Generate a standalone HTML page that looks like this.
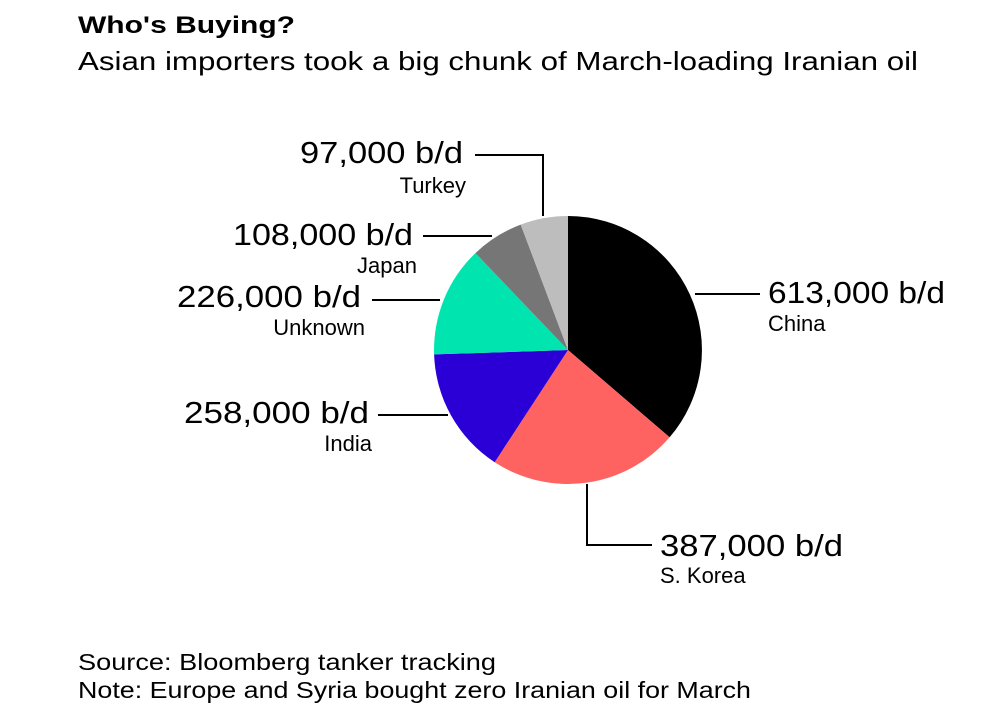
<!DOCTYPE html>
<html><head><meta charset="utf-8"><style>
html,body{margin:0;padding:0;background:#fff;width:1003px;height:720px;overflow:hidden}
svg{display:block;font-family:"Liberation Sans",sans-serif}
</style></head><body>
<svg width="1003" height="720" viewBox="0 0 1003 720">
<text x="78" y="33" font-size="24" font-weight="bold" textLength="217" lengthAdjust="spacingAndGlyphs">Who's Buying?</text>
<text x="78" y="70" font-size="26" textLength="840" lengthAdjust="spacingAndGlyphs">Asian importers took a big chunk of March-loading Iranian oil</text>

<g stroke="none">
<path d="M568,350 L568,216 A134,134 0 0 1 669.6,437.3 Z" fill="#000"/>
<path d="M568,350 L669.6,437.3 A134,134 0 0 1 494.7,462.2 Z" fill="#ff6361"/>
<path d="M568,350 L494.7,462.2 A134,134 0 0 1 434.1,354.4 Z" fill="#2a00d6"/>
<path d="M568,350 L434.1,354.4 A134,134 0 0 1 475.4,253.1 Z" fill="#00e5b0"/>
<path d="M568,350 L475.4,253.1 A134,134 0 0 1 520.7,224.6 Z" fill="#767676"/>
<path d="M568,350 L520.7,224.6 A134,134 0 0 1 568,216 Z" fill="#bdbdbd"/>
</g>

<g stroke="#000" stroke-width="2" fill="none">
<path d="M695,294 H760"/>
<path d="M587,484 V545 H652"/>
<path d="M378,415 H448"/>
<path d="M372,300 H440"/>
<path d="M423,236 H492"/>
<path d="M475,155 H543 V216"/>
</g>

<g font-size="31">
<text x="300" y="163" textLength="163" lengthAdjust="spacingAndGlyphs">97,000 b/d</text>
<text x="233" y="245" textLength="180" lengthAdjust="spacingAndGlyphs">108,000 b/d</text>
<text x="177" y="307" textLength="184" lengthAdjust="spacingAndGlyphs">226,000 b/d</text>
<text x="184" y="423" textLength="185" lengthAdjust="spacingAndGlyphs">258,000 b/d</text>
<text x="768" y="303" textLength="177" lengthAdjust="spacingAndGlyphs">613,000 b/d</text>
<text x="660" y="556" textLength="183" lengthAdjust="spacingAndGlyphs">387,000 b/d</text>
</g>
<g font-size="22">
<text x="466" y="193" text-anchor="end">Turkey</text>
<text x="417" y="273" text-anchor="end">Japan</text>
<text x="365" y="335" text-anchor="end">Unknown</text>
<text x="372" y="451" text-anchor="end">India</text>
<text x="768" y="331">China</text>
<text x="660" y="583">S. Korea</text>
</g>

<text x="78" y="670" font-size="23" textLength="418" lengthAdjust="spacingAndGlyphs">Source: Bloomberg tanker tracking</text>
<text x="78" y="698" font-size="23" textLength="673" lengthAdjust="spacingAndGlyphs">Note: Europe and Syria bought zero Iranian oil for March</text>
</svg>
</body></html>
